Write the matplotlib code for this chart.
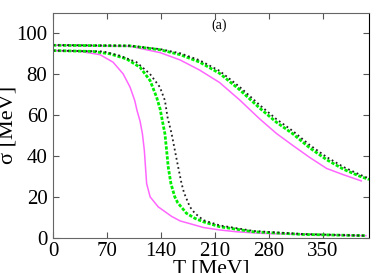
import matplotlib
matplotlib.use("Agg")
import matplotlib.pyplot as plt

plt.rcParams['font.family'] = ['Liberation Serif', 'DejaVu Serif']

# Upper group (plateau ~94)
T_up_black = [0, 100, 139, 165, 190, 216, 242, 268, 290, 311, 333, 355, 377, 398, 410]
s_up_black = [94.3, 94.0, 92.3, 90.3, 86.9, 81.7, 73.9, 65.0, 58.0, 52.3, 45.4, 39.5, 34.6, 30.9, 29.0]
T_up_green = [0, 100, 139, 165, 190, 216, 242, 268, 290, 311, 333, 355, 377, 398, 410]
s_up_green = [94.2, 93.9, 92.0, 89.6, 86.0, 80.5, 72.5, 63.5, 56.5, 50.9, 44.0, 38.2, 33.5, 30.1, 28.5]
T_up_mag = [0, 100, 139, 165, 190, 216, 242, 268, 290, 311, 333, 355, 377, 400]
s_up_mag = [94.2, 93.7, 90.6, 87.0, 82.1, 76.0, 67.5, 58.2, 51.0, 45.2, 39.3, 33.9, 30.8, 27.8]

# Lower group (plateau ~91.6)
T_lo_black = [0, 65, 87, 108.4, 125.7, 138.7, 145.2, 148.6, 153.9, 158.1, 162.4, 166.8, 170, 177.6, 184, 195, 216.5, 260, 324, 406]
s_lo_black = [91.6, 91.2, 89.1, 85.9, 80.2, 73.7, 67.2, 59.0, 50.9, 42.8, 34.6, 26.5, 22.0, 15.1, 12.0, 8.6, 6.0, 3.3, 1.8, 1.0]
T_lo_green = [0, 52, 74, 95.5, 113, 126, 134.4, 139, 141, 145.2, 147.4, 149.5, 153, 158, 162, 167, 173, 184, 195, 216, 260, 324, 406]
s_lo_green = [91.6, 91.2, 90.0, 87.5, 83.4, 76.9, 68.8, 63.0, 59.0, 50.9, 42.8, 34.6, 26.5, 20.0, 17.0, 14.8, 12.0, 9.5, 7.8, 5.4, 2.9, 1.6, 1.0]
T_lo_mag = [0, 35, 61, 78, 91, 100, 106, 109, 113, 116, 118.5, 120, 121.5, 126, 136.5, 154, 165, 184, 195, 216, 238, 272, 324, 370, 406]
s_lo_mag = [91.6, 91.2, 89.6, 85.9, 80.2, 73.7, 67.2, 62.3, 57.0, 50.9, 42.8, 34.6, 26.5, 20.0, 15.1, 10.4, 8.2, 6.2, 5.0, 3.8, 2.9, 2.1, 1.6, 1.2, 1.0]

xticks = [0, 70, 140, 210, 280, 350]
yticks = [0, 20, 40, 60, 80, 100]

fig = plt.figure(figsize=(3.89, 2.73), dpi=100)
ax = fig.add_axes([53/389, 1-237.7/273, (369-53)/389, (237.7-13)/273])

green = '#00ee00'
mag = '#ff66ff'
blk = '#222222'

ax.plot(T_up_mag, s_up_mag, color=mag, lw=1.1, ls='-')
ax.plot(T_lo_mag, s_lo_mag, color=mag, lw=1.1, ls='-')
ax.plot(T_up_green, s_up_green, color=green, lw=2.0, ls=(0, (1.2, 0.6)))
ax.plot(T_lo_green, s_lo_green, color=green, lw=2.0, ls=(0, (1.2, 0.6)))
ax.plot(T_up_black, s_up_black, color=blk, lw=1.3, ls=(0, (1, 1.6)))
ax.plot(T_lo_black, s_lo_black, color=blk, lw=1.3, ls=(0, (1, 1.6)))

ax.set_xlim(0, 410)
ax.set_ylim(0, 110)
ax.set_xticks(xticks)
ax.set_yticks(yticks)
ax.tick_params(direction='in', length=4, width=0.8, top=True, right=True,
               labelsize=15, colors='#555555', labelcolor='black', pad=4)
ax.tick_params(axis='x', pad=3)
for s in ['left', 'bottom', 'top']:
    ax.spines[s].set_color('#666666')
ax.spines['right'].set_color('black')

ax.set_xlabel('T [MeV]', fontsize=15.5)
ax.xaxis.set_label_coords(0.5, -0.098)
ax.set_ylabel('σ [MeV]', fontsize=16)
ax.yaxis.set_label_coords(-0.112, 0.5)
ax.text(216, 104, '(a)', fontsize=10, ha='center', va='center')

fig.savefig('out.png', dpi=100)
